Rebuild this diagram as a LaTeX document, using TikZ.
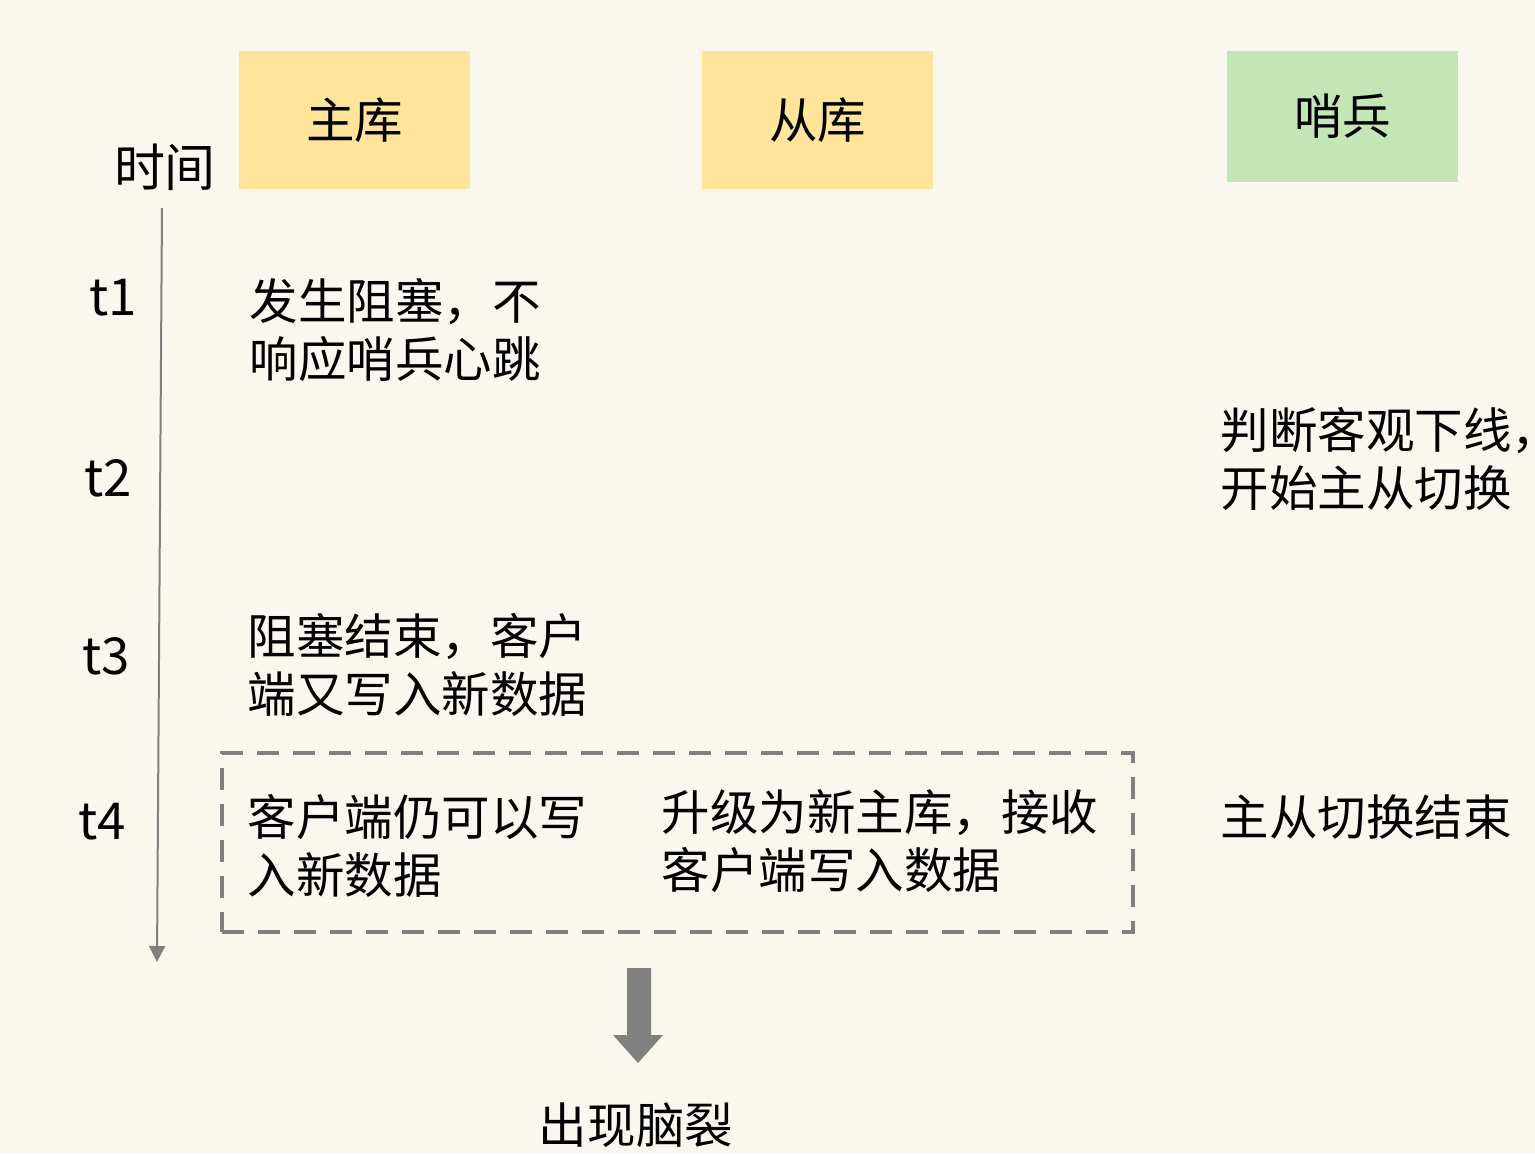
\documentclass[tikz,border=0pt]{standalone}
\usepackage{fontspec}
\setmainfont{Noto Sans CJK SC}
\usetikzlibrary{arrows.meta,positioning}
\definecolor{bgcream}{RGB}{250,248,238}
\definecolor{dbyellow}{RGB}{255,229,153}
\definecolor{sentgreen}{RGB}{195,230,183}
\definecolor{linegray}{RGB}{128,128,128}

\begin{document}
\begin{tikzpicture}[
  role/.style={fill=dbyellow, minimum width=2.31cm, minimum height=1.38cm,
               inner sep=0pt, font=\fontsize{13.8}{16.5}\selectfont},
  tick/.style={inner sep=0pt, font=\fontsize{14.5}{16.5}\selectfont},
  note/.style={anchor=west, inner sep=0pt, align=left,
               font=\fontsize{13.8}{16.5}\selectfont},
  timeline/.style={-{Triangle[width=0.16cm,length=0.16cm]}, linegray, line width=0.02cm},
  splitbox/.style={draw=linegray, line width=0.04cm, dash pattern=on 0.22cm off 0.14cm,
                   minimum width=9.11cm, minimum height=1.79cm, inner sep=0pt}
]
\fill[bgcream] (0,0) rectangle (15.35,-11.54);
\useasboundingbox (0,0) rectangle (15.35,-11.54);

%% ---------- HEADER ROW ----------
\node[role] (master)   at (3.545,-1.20) {主库};
\node[role] (replica)  at (8.175,-1.20) {从库};
\node[role, fill=sentgreen, minimum height=1.31cm]
            (sentinel) at (13.425,-1.165) {哨兵};

%% ---------- TIME AXIS ----------
\node[tick] (time) at (1.65,-1.67) {时间};
\coordinate (tltop) at (1.62,-2.08);
\coordinate (tlend) at (1.57,-9.62);
\draw[timeline] (tltop) -- (tlend);

\node[tick] (t1) at (1.13,-2.98) {t1};
\node[tick] (t2) at (1.08,-4.78) {t2};
\node[tick] (t3) at (1.06,-6.56) {t3};
\node[tick] (t4) at (1.02,-8.22) {t4};

%% ---------- EVENTS ----------
\node[note] (block)   at (2.49,-3.30) {发生阻塞，不\\响应哨兵心跳};
\node[note] (odown)   at (12.20,-4.59) {判断客观下线，\\开始主从切换};
\node[note] (unblock) at (2.47,-6.65) {阻塞结束，客户\\端又写入新数据};

%% ---------- SPLIT BRAIN ----------
\node[splitbox] (split) at (6.775,-8.425) {};
\node[note] (oldw)  at (2.47,-8.46) {客户端仍可以写\\入新数据};
\node[note] (neww)  at (6.61,-8.41) {升级为新主库，接收\\客户端写入数据};
\node[note] (done)  at (12.20,-8.17) {主从切换结束};

\fill[linegray] (6.27,-9.68) -- (6.51,-9.68) -- (6.51,-10.35) -- (6.63,-10.35)
  -- (6.38,-10.63) -- (6.13,-10.35) -- (6.27,-10.35) -- cycle;
\node[tick, font=\fontsize{13.8}{16.5}\selectfont] (brain) at (6.36,-11.25) {出现脑裂};

\end{tikzpicture}
\end{document}
